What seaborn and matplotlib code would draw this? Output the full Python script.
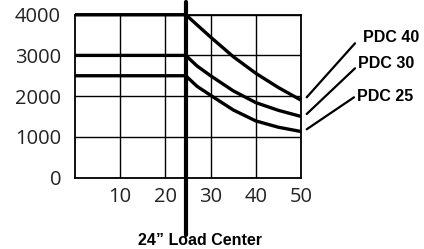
import matplotlib
matplotlib.use("Agg")
import matplotlib.pyplot as plt
from matplotlib.lines import Line2D
import seaborn as sns
import pandas as pd

# ---- data ----
load_center = 24.5
x_pts = [0, 24.5, 27, 30, 35, 40, 45, 50]
pdc40 = [4000, 4000, 3750, 3450, 2970, 2560, 2210, 1900]
pdc30 = [3000, 3000, 2740, 2500, 2130, 1840, 1650, 1500]
pdc25 = [2500, 2500, 2240, 2020, 1660, 1390, 1235, 1130]
series_names = ["PDC 40", "PDC 30", "PDC 25"]
x_ticks = [10, 20, 30, 40, 50]
y_ticks = [0, 1000, 2000, 3000, 4000]
load_label = "24\u201d Load Center"

rows = []
for name, vals in zip(series_names, [pdc40, pdc30, pdc25]):
    for xv, yv in zip(x_pts, vals):
        rows.append({"x": xv, "value": yv, "series": name})
df = pd.DataFrame(rows)

sns.set_style("white")
plt.rcParams["font.family"] = ["Open Sans", "Lato", "DejaVu Sans"]

W, H = 424, 249
fig = plt.figure(figsize=(W / 100, H / 100), dpi=100)
ax_left, ax_right, ax_top, ax_bot = 75, 301, 14.7, 177.5
ax = fig.add_axes([ax_left / W, (H - ax_bot) / H, (ax_right - ax_left) / W, (ax_bot - ax_top) / H])

sns.lineplot(data=df, x="x", y="value", hue="series", units="series", estimator=None,
             palette={n: "black" for n in series_names}, linewidth=2.4, sort=False,
             legend=False, ax=ax, zorder=3)
for ln in ax.lines:
    ln.set_clip_on(False)
    ln.set_solid_capstyle("butt")
    ln.set_solid_joinstyle("round")

ax.set_xlim(0, 50)
ax.set_ylim(0, 4000)
ax.set_xticks(x_ticks)
ax.set_yticks(y_ticks)
ax.set_xlabel("")
ax.set_ylabel("")
ax.grid(True, color="black", linewidth=1.0)
ax.set_axisbelow(True)
for s in ax.spines.values():
    s.set_visible(True)
    s.set_color("black")
    s.set_linewidth(1.3)
ax.tick_params(axis="both", length=0, labelsize=15, colors="#222222")
ax.tick_params(axis="y", pad=10)
ax.tick_params(axis="x", pad=7)

# load-center reference line, extending beyond the axes
ax.axvline(load_center, ymin=-0.353, ymax=1.078, color="black", linewidth=3.0,
           clip_on=False, zorder=4)

bold_narrow = dict(family=["Liberation Sans Narrow", "Liberation Sans", "DejaVu Sans"],
                   fontweight="bold", fontsize=12.5, color="black")
load_txt = fig.text(200 / W, (H - 240) / H, load_label, ha="center", va="center", **bold_narrow)

# leader lines and curve labels
leaders = [((306.7, 97.3), (355, 43.3)),
           ((306.7, 114.0), (355, 68.3)),
           ((306.7, 129.3), (354, 97.3))]
labels_pos = [(363, 38), (358.5, 63), (357, 96)]
lab_txts = []
for (p0, p1), name, (tx, ty) in zip(leaders, series_names, labels_pos):
    fig.add_artist(Line2D([p0[0] / W, p1[0] / W], [(H - p0[1]) / H, (H - p1[1]) / H],
                          transform=fig.transFigure, color="black", linewidth=1.6))
    lab_txts.append(fig.text(tx / W, (H - ty) / H, name, ha="left", va="center", **bold_narrow))

# fit font sizes to the widths measured on the reference
fig.canvas.draw()
r = fig.canvas.get_renderer()
ylab = ax.get_yticklabels()[-1]
w = ylab.get_window_extent(r).width
ax.tick_params(axis="both", labelsize=15 * min(1.3, max(0.7, 46 / w)))
w = load_txt.get_window_extent(r).width
fs = max(12.5 * 117 / w, 11.5)
load_txt.set_fontsize(fs)
for t in lab_txts:
    t.set_fontsize(fs)

fig.savefig("out.png", dpi=100)
